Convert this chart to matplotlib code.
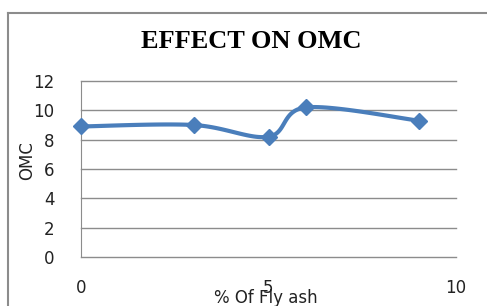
import numpy as np
import matplotlib
matplotlib.use("Agg")
import matplotlib.pyplot as plt
from matplotlib.lines import Line2D

fly_ash = [0, 3, 5, 6, 9]
omc = [8.9, 9.0, 8.2, 10.2, 9.3]
x_ticks = [0, 5, 10]
y_ticks = [0, 2, 4, 6, 8, 10, 12]
color = "#4A7EBB"

def smooth(xs, ys, n=30, t=0.5):
    xs = np.asarray(xs, float); ys = np.asarray(ys, float)
    P = np.column_stack([xs, ys])
    out = [P[0]]
    for i in range(len(P) - 1):
        p0 = P[i - 1] if i > 0 else P[i]
        p1, p2 = P[i], P[i + 1]
        p3 = P[i + 2] if i + 2 < len(P) else P[i + 1]
        c1 = p1 + (p2 - p0) * t / 3
        c2 = p2 - (p3 - p1) * t / 3
        s = np.linspace(0, 1, n)[1:, None]
        seg = (1 - s) ** 3 * p1 + 3 * (1 - s) ** 2 * s * c1 + 3 * (1 - s) * s ** 2 * c2 + s ** 3 * p2
        out.extend(seg)
    out = np.array(out)
    return out[:, 0], out[:, 1]

fig = plt.figure(figsize=(4.87, 3.06), dpi=100)
W, H = 487, 306
ax = fig.add_axes([81 / W, 1 - 257 / H, (456 - 81) / W, (257 - 81) / H])

sx, sy = smooth(fly_ash, omc)
ax.plot(sx, sy, color=color, lw=3, solid_capstyle="round", zorder=3, clip_on=False)
ax.plot(fly_ash, omc, linestyle="none", marker="D", markersize=8, color=color, zorder=4, clip_on=False)

ax.set_xlim(0, 10)
ax.set_ylim(0, 12)
ax.set_yticks(y_ticks)
ax.set_xticks(x_ticks)
for yv in y_ticks:
    ax.axhline(yv, color="#8c8c8c", lw=1, zorder=1, clip_on=False)
for s in ["top", "right", "bottom"]:
    ax.spines[s].set_visible(False)
ax.spines["left"].set_color("#8c8c8c")
ax.tick_params(axis="both", length=0, labelsize=12, colors="#222222")
ax.tick_params(axis="y", pad=19)
ax.tick_params(axis="x", pad=16)
ax.set_ylabel("OMC", fontsize=12, color="#222222")
ax.yaxis.set_label_coords(-0.12, 0.55)

fig.text(266 / W, 1 - 298 / H, "% Of Fly ash", fontsize=12, ha="center", va="center", color="#222222")

fig.text(251 / W, 1 - 42 / H, "EFFECT ON OMC", family="Liberation Serif",
         fontweight="bold", fontsize=19, ha="center", va="center")

fig.add_artist(Line2D([8 / W, 8 / W], [0, 1 - 13 / H], transform=fig.transFigure, color="#8c8c8c", lw=1.5))
fig.add_artist(Line2D([8 / W, 1], [1 - 13 / H, 1 - 13 / H], transform=fig.transFigure, color="#8c8c8c", lw=1.5))

fig.savefig("out.png", dpi=100)
